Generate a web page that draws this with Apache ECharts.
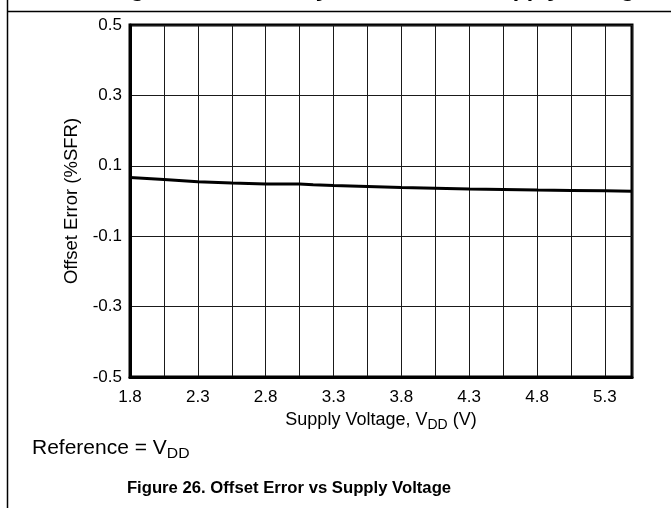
<!DOCTYPE html>
<html><head><meta charset="utf-8">
<script src="https://cdn.jsdelivr.net/npm/echarts@6/dist/echarts.min.js"></script>
<style>html,body{margin:0;padding:0;background:#fff}#c{width:671px;height:508px}</style>
</head><body><div id="c"></div>
<script>
const supplyVoltage = [1.8, 2.05, 2.3, 2.55, 2.8, 3.05, 3.15, 3.3, 3.55, 3.8, 4.05, 4.3, 4.55, 4.8, 5.05, 5.3, 5.5];
const offsetError  = [0.067, 0.061, 0.055, 0.051, 0.048, 0.048, 0.046, 0.044, 0.041, 0.038, 0.036, 0.034, 0.033, 0.031, 0.030, 0.029, 0.028];
const xTickLabels = ['1.8', '2.3', '2.8', '3.3', '3.8', '4.3', '4.8', '5.3'];
const yTickLabels = ['-0.5', '-0.3', '-0.1', '0.1', '0.3', '0.5'];

const FONT = '"Liberation Sans", Arial, Helvetica, sans-serif';
const chart = echarts.init(document.getElementById('c'), null, {renderer: 'canvas'});
const pick = (list, v) => list.find(t => Math.abs(parseFloat(t) - v) < 1e-6) || '';

chart.setOption({
  animation: false,
  backgroundColor: '#fff',
  grid: {left: 130, top: 25, width: 502, height: 352, show: true, borderColor: '#000', borderWidth: 3, backgroundColor: 'transparent'},
  xAxis: {
    type: 'value', min: 1.8, max: 5.5, interval: 0.25,
    axisLine: {show: true, onZero: false, lineStyle: {color: '#000', width: 3}},
    axisTick: {show: false},
    splitLine: {show: true, lineStyle: {color: '#1a1a1a', width: 1}},
    axisLabel: {color: '#000', fontFamily: FONT, fontSize: 17, margin: 12, showMaxLabel: false,
      formatter: v => pick(xTickLabels, v)},
    name: '{a|Supply Voltage, V}{s|DD}{a| (V)}',
    nameLocation: 'middle', nameGap: 31,
    nameTextStyle: {color: '#000', fontFamily: FONT, fontSize: 18,
      rich: {a: {fontFamily: FONT, fontSize: 18, color: '#000', lineHeight: 20, verticalAlign: 'bottom'},
             s: {fontFamily: FONT, fontSize: 14, color: '#000', lineHeight: 16, verticalAlign: 'bottom', padding: [0, 0, -3, 0]}}}
  },
  yAxis: {
    type: 'value', min: -0.5, max: 0.5, interval: 0.2,
    axisLine: {show: true, onZero: false, lineStyle: {color: '#000', width: 3}},
    axisTick: {show: false},
    splitLine: {show: true, lineStyle: {color: '#1a1a1a', width: 1}},
    axisLabel: {color: '#000', fontFamily: FONT, fontSize: 17, margin: 8,
      formatter: v => pick(yTickLabels, v)},
    name: 'Offset Error (%SFR)',
    nameLocation: 'middle', nameGap: 47,
    nameTextStyle: {color: '#000', fontFamily: FONT, fontSize: 18.5}
  },
  series: [{
    type: 'line',
    data: supplyVoltage.map((x, i) => [x, offsetError[i]]),
    showSymbol: false, smooth: false,
    lineStyle: {color: '#000', width: 3},
    z: 5
  }],
  graphic: [
    {type: 'line', shape: {x1: 7.5, y1: 0, x2: 7.5, y2: 508}, style: {stroke: '#000', lineWidth: 1.5}},
    {type: 'line', shape: {x1: 7.5, y1: 11.5, x2: 671, y2: 11.5}, style: {stroke: '#000', lineWidth: 1.5}},
    {type: 'text', x: 110, y: 1, scaleX: 1.15,
      style: {text: 'Figure 25. Accuracy Error Drift vs Supply Voltage', font: 'bold 20px ' + FONT, fill: '#000', textAlign: 'left', textVerticalAlign: 'bottom'}},
    {type: 'text', x: 32, y: 447, scaleX: 1.05,
      style: {text: '{a|Reference = V}{s|DD}', fill: '#000', textAlign: 'left', textVerticalAlign: 'middle',
        rich: {a: {fontFamily: FONT, fontSize: 20, fill: '#000', lineHeight: 22, verticalAlign: 'bottom'},
               s: {fontFamily: FONT, fontSize: 15, fill: '#000', lineHeight: 16, verticalAlign: 'bottom', padding: [0, 0, -3, 0]}}}},
    {type: 'text', x: 289, y: 488,
      style: {text: 'Figure 26. Offset Error vs Supply Voltage', font: 'bold 16.7px ' + FONT, fill: '#000', textAlign: 'center', textVerticalAlign: 'middle'}}
  ]
});
</script>
</body></html>
